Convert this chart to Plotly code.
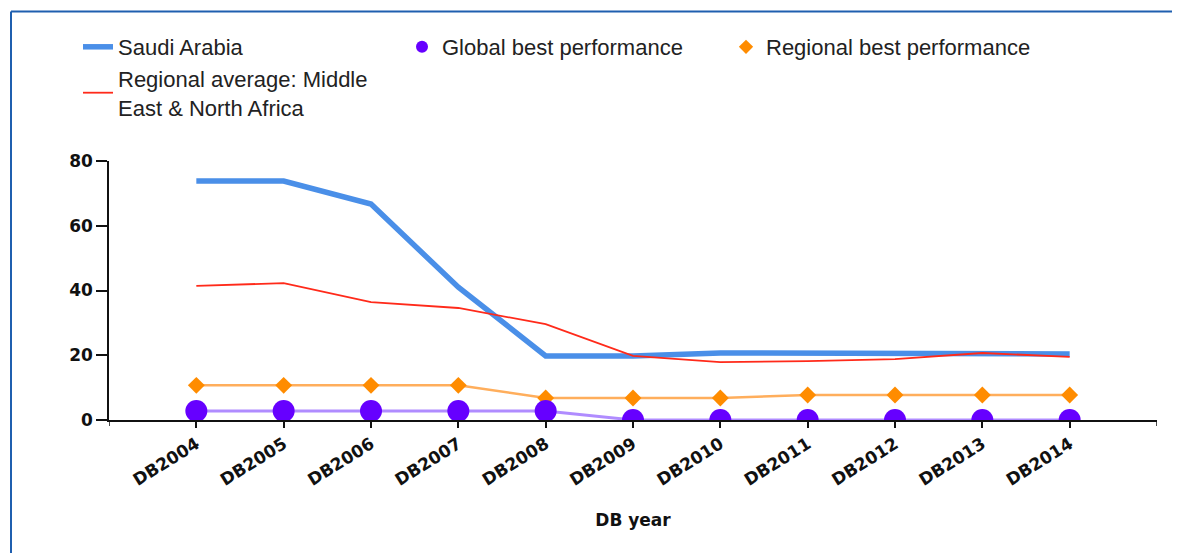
import plotly.graph_objects as go

years = ["DB2004", "DB2005", "DB2006", "DB2007", "DB2008", "DB2009",
         "DB2010", "DB2011", "DB2012", "DB2013", "DB2014"]
saudi = [73.8, 73.8, 66.7, 41.0, 19.8, 19.8, 20.7, 20.7, 20.7, 20.7, 20.4]
regional_avg = [41.4, 42.3, 36.4, 34.6, 29.6, 19.8, 17.9, 18.2, 18.8, 20.7, 19.5]
regional_best = [10.7, 10.7, 10.7, 10.7, 6.8, 6.8, 6.8, 7.7, 7.7, 7.7, 7.7]
global_best = [2.8, 2.8, 2.8, 2.8, 2.8, 0, 0, 0, 0, 0, 0]
y_ticks = [0, 20, 40, 60, 80]

OFF = 8  # default page margin of the html body
W, H = 1180 - OFF, 553 - OFF
L, R, T, B = 109 - OFF, 23, 161 - OFF, 133
pw, ph = W - L - R, H - T - B

def px_x(x):  # screen x -> paper
    return (x - OFF - L) / pw

def px_y(y):  # screen y -> paper
    return 1 + (T - (y - OFF)) / ph

ORANGE_LINE, ORANGE = "#FFAE5C", "#FF8C00"
PURPLE_LINE, PURPLE = "#B08CFF", "#6600FF"

fig = go.Figure()
fig.add_trace(go.Scatter(
    x=years, y=regional_best, name="Regional best performance", mode="lines+markers",
    line=dict(color=ORANGE_LINE, width=2.5),
    marker=dict(symbol="diamond", size=13, color=ORANGE), showlegend=False))
fig.add_trace(go.Scatter(
    x=years, y=global_best, name="Global best performance", mode="lines+markers",
    line=dict(color=PURPLE_LINE, width=3),
    marker=dict(symbol="circle", size=22, color=PURPLE), showlegend=False))
fig.add_trace(go.Scatter(
    x=years, y=saudi, name="Saudi Arabia", mode="lines",
    line=dict(color="#4A8FE8", width=5.5), legendrank=1))
fig.add_trace(go.Scatter(
    x=years, y=regional_avg, name="Regional average: Middle<br>East & North Africa",
    mode="lines", line=dict(color="#FF2A1A", width=1.8), legendrank=4))
# legend entries (marker only, as in the original legend)
fig.add_trace(go.Scatter(
    x=[None], y=[None], name="Global best performance", mode="markers",
    marker=dict(symbol="circle", size=12, color=PURPLE), legendrank=2))
fig.add_trace(go.Scatter(
    x=[None], y=[None], name="Regional best performance", mode="markers",
    marker=dict(symbol="diamond", size=11, color=ORANGE), legendrank=3))

tick_font = dict(family="DejaVu Sans", size=17, color="#111111", weight="bold")

fig.update_layout(
    width=W, height=H,
    margin=dict(l=L, r=R, t=T, b=B, pad=0),
    paper_bgcolor="white", plot_bgcolor="white",
    showlegend=True,
    legend=dict(
        orientation="h", x=px_x(78), y=px_y(26),
        xanchor="left", yanchor="top",
        font=dict(family="Liberation Sans", size=22, color="#222222"),
        entrywidth=279, entrywidthmode="pixels",
        itemsizing="trace", bgcolor="rgba(0,0,0,0)",
    ),
    xaxis=dict(
        type="category", range=[-1, 11], showgrid=False, zeroline=False,
        showline=True, linecolor="#111111", linewidth=1.5,
        ticks="outside", ticklen=6, tickcolor="#111111", tickwidth=1.5,
        tickangle=-32, tickfont=tick_font,
        title=dict(text="DB year", font=dict(family="DejaVu Sans", size=17,
                                             color="#111111", weight="bold"), standoff=25),
    ),
    yaxis=dict(
        range=[0, 80], tickvals=y_ticks, showgrid=False, zeroline=False,
        showline=True, linecolor="#111111", linewidth=1.5,
        ticks="outside", ticklen=11, tickcolor="#111111", tickwidth=1.5,
        tickfont=tick_font,
    ),
    shapes=[
        dict(type="line", xref="paper", yref="paper",
             x0=px_x(11), x1=2, y0=px_y(11.5), y1=px_y(11.5),
             line=dict(color="#1F5FAF", width=2)),
        dict(type="line", xref="paper", yref="paper",
             x0=px_x(11), x1=px_x(11), y0=-1, y1=px_y(11.5),
             line=dict(color="#1F5FAF", width=2)),
        dict(type="line", xref="x", yref="paper", x0=-1, x1=-1, y0=0, y1=-6 / ph,
             line=dict(color="#111111", width=1.5)),
        dict(type="line", xref="x", yref="paper", x0=11, x1=11, y0=0, y1=-6 / ph,
             line=dict(color="#111111", width=1.5)),
    ],
)

fig.write_html("out.html")
